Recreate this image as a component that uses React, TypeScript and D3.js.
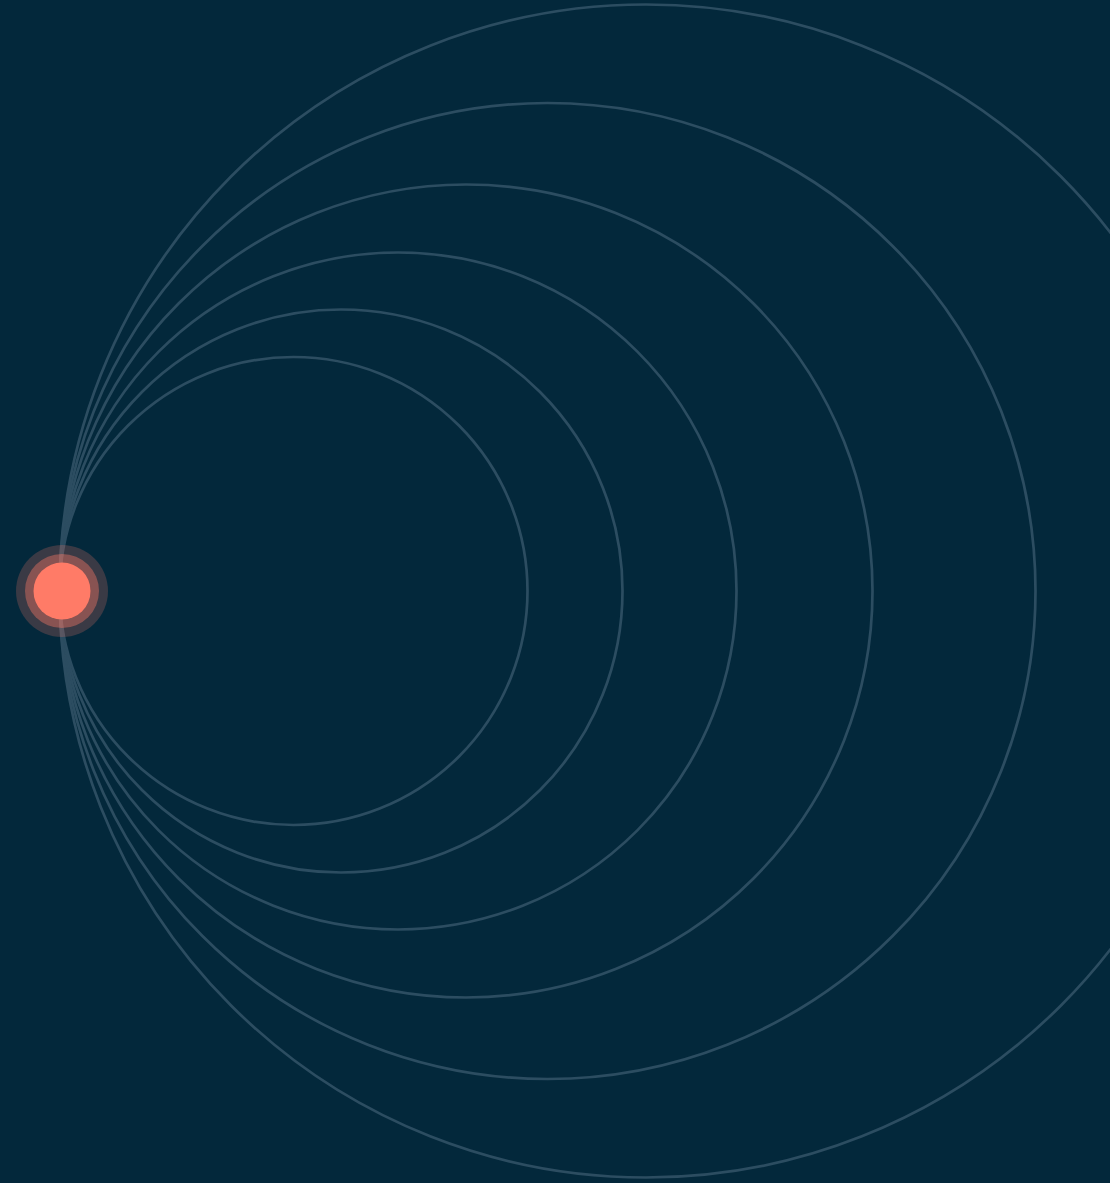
import React from "react";
import * as d3 from "d3";

const ringLabels = ["r1", "r2", "r3", "r4", "r5", "r6"];
const ringRadii = [234, 281.5, 338.5, 406.5, 488, 586.5];

const W = 1110;
const H = 1183;

export default function App() {
  const originX = 59.5;
  const originY = 591;
  const scale = d3.scaleLinear().domain([0, 1]).range([0, 1]);
  return (
    <svg
      width={W}
      height={H}
      style={{ position: "absolute", left: 0, top: 0, display: "block" }}
    >
      <rect x={0} y={0} width={W} height={H} fill="#03283b" />
      {ringLabels.map((k, i) => {
        const r = scale(ringRadii[i]);
        return (
          <circle
            key={k}
            cx={originX + r}
            cy={originY}
            r={r}
            fill="none"
            stroke="#2c4d61"
            strokeWidth={2.7}
          />
        );
      })}
      <circle cx={62} cy={591} r={46} fill="#ff7b67" fillOpacity={0.22} />
      <circle cx={62} cy={591} r={37} fill="#ff7b67" fillOpacity={0.4} />
      <circle cx={62} cy={591} r={28.5} fill="#ff7b67" />
    </svg>
  );
}
